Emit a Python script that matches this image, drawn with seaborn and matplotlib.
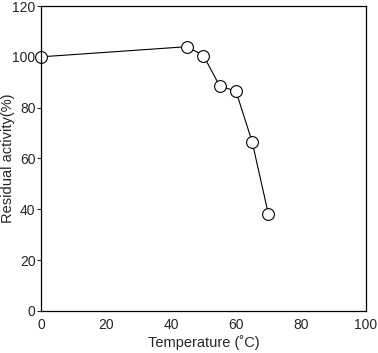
import matplotlib
matplotlib.use("Agg")
from matplotlib import pyplot as plt
import seaborn as sns
import pandas as pd

# values
temperature = [0, 45, 50, 55, 60, 65, 70]
activity = [100, 104, 100.5, 88.5, 86.5, 66.5, 38]

df = pd.DataFrame({"Temperature": temperature, "Activity": activity})

sns.set_style("ticks")
plt.rcParams["font.family"] = ["Liberation Sans", "DejaVu Sans"]

fig = plt.figure(figsize=(3.78, 3.53), dpi=100)
ax = fig.add_axes([0.1085, 0.119, 0.8595, 0.864])

sns.lineplot(data=df, x="Temperature", y="Activity", ax=ax, color="black",
             linewidth=0.8, marker="o", markersize=8.5, markerfacecolor="white",
             markeredgecolor="black", markeredgewidth=0.8, clip_on=False)

ax.set_xlim(0, 100)
ax.set_ylim(0, 120)
ax.set_xticks([0, 20, 40, 60, 80, 100])
ax.set_yticks([0, 20, 40, 60, 80, 100, 120])
for s in ax.spines.values():
    s.set_visible(True)
    s.set_linewidth(0.9)
    s.set_color("black")
ax.tick_params(axis="y", direction="out", length=3, width=0.8, labelsize=10, pad=1)
ax.tick_params(axis="x", length=0, labelsize=10, pad=5)
ax.set_xlabel("Temperature (\u02daC)", fontsize=10.5, labelpad=2)
ax.set_ylabel("Residual activity(%)", fontsize=10.5, labelpad=0)
ax.yaxis.set_label_coords(-0.08, 0.5)

fig.savefig("out.png", dpi=100)
